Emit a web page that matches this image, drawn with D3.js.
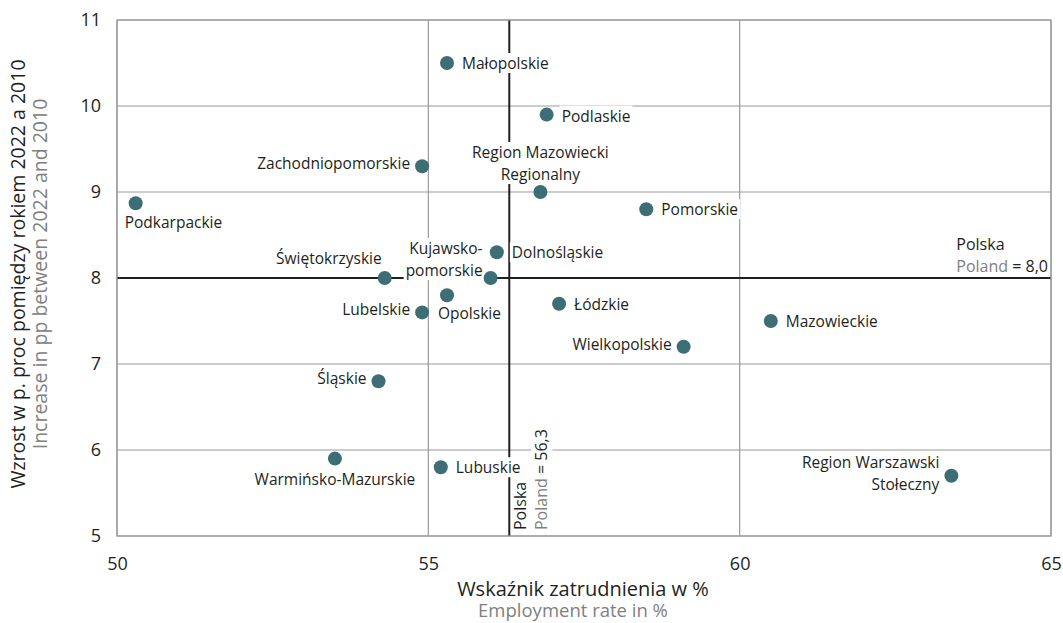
<!DOCTYPE html>
<html>
<head>
<meta charset="utf-8">
<script src="https://cdn.jsdelivr.net/npm/d3@7"></script>
<style>
  body { margin: 0; background: #fff; }
  svg text { font-family: "Open Sans", sans-serif; }
</style>
</head>
<body>
<svg id="main" width="1063" height="623"></svg>
<script>
// data
const regions = ["Małopolskie", "Podlaskie", "Zachodniopomorskie", "Region Mazowiecki|Regionalny", "Pomorskie",
    "Podkarpackie", "Kujawsko-|pomorskie", "Dolnośląskie", "Świętokrzyskie", "Opolskie", "Lubelskie", "Łódzkie",
    "Mazowieckie", "Wielkopolskie", "Śląskie", "Warmińsko-Mazurskie", "Lubuskie", "Region Warszawski|Stołeczny"]
const employment = [55.3, 56.9, 54.9, 56.8, 58.5, 50.3, 56.0, 56.1, 54.3, 55.3, 54.9, 57.1, 60.5, 59.1, 54.2, 53.5, 55.2, 63.4]
const increase = [10.5, 9.9, 9.3, 9.0, 8.8, 8.87, 8.0, 8.3, 8.0, 7.8, 7.6, 7.7, 7.5, 7.2, 6.8, 5.9, 5.8, 5.7]
// where the label sits against its point
const placement = ["r", "rb", "l", "a", "r", "bl", "al", "r", "al2", "br", "l", "r", "r", "l", "l", "b", "r", "l"]
const xTicks = [50, 55, 60, 65]
const yTicks = [5, 6, 7, 8, 9, 10, 11]
const polandX = 56.3
const polandY = 8.0

const svg = d3.select('svg#main')
const pLeft = 117, pRight = 1051, pTop = 20, pBottom = 536
const labelSize = "15.5px"

const x = d3.scaleLinear().domain([50, 65]).range([pLeft, pRight])
const y = d3.scaleLinear().domain([5, 11]).range([pBottom, pTop])

// grid
const grid = svg.append("g")
grid.selectAll("line.gx").data(xTicks).enter().append("line")
    .attr("x1", d => x(d)).attr("x2", d => x(d))
    .attr("y1", pTop).attr("y2", pBottom)
    .attr("stroke", "#9a9a9a").attr("stroke-width", 1.2)
grid.selectAll("line.gy").data(yTicks).enter().append("line")
    .attr("y1", d => y(d)).attr("y2", d => y(d))
    .attr("x1", pLeft).attr("x2", pRight)
    .attr("stroke", "#9a9a9a").attr("stroke-width", 1.2)

// axes (tick labels only)
svg.append("g")
    .attr("transform", `translate(0,${pBottom})`)
    .call(d3.axisBottom(x).tickValues(xTicks).tickSize(0).tickPadding(21).tickFormat(d3.format("d")))
svg.append("g")
    .attr("transform", `translate(${pLeft},0)`)
    .call(d3.axisLeft(y).tickValues(yTicks).tickSize(0).tickPadding(16).tickFormat(d3.format("d")))
svg.selectAll(".domain").remove()
svg.selectAll(".tick text").style("font-size", "18px").attr("fill", "#231f20")
    .style("font-family", '"Open Sans", sans-serif')

// Poland reference lines
svg.append("line")
    .attr("x1", pLeft).attr("x2", pRight)
    .attr("y1", y(polandY)).attr("y2", y(polandY))
    .attr("stroke", "#231f20").attr("stroke-width", 2)
svg.append("line")
    .attr("x1", x(polandX)).attr("x2", x(polandX))
    .attr("y1", pTop).attr("y2", pBottom)
    .attr("stroke", "#231f20").attr("stroke-width", 2)

// horizontal reference label
const hLab = svg.append("g")
const hl2 = hLab.append("text")
    .attr("x", pRight - 3).attr("y", y(polandY) - 6)
    .attr("text-anchor", "end").style("font-size", "16px")
hl2.append("tspan").attr("fill", "#808080").text("Poland")
hl2.append("tspan").attr("fill", "#231f20").text(" = 8,0")
const hw = hl2.node().getComputedTextLength()
hLab.append("text")
    .attr("x", pRight - 3 - hw).attr("y", y(polandY) - 28)
    .style("font-size", "16px").attr("fill", "#231f20").text("Polska")

// vertical reference label
const vLab = svg.append("g")
vLab.append("text")
    .attr("transform", `translate(${x(polandX) + 17},${pBottom - 6}) rotate(-90)`)
    .style("font-size", "16px").attr("fill", "#231f20").text("Polska")
const vBg = vLab.append("rect").attr("fill", "#fff")
const vt = vLab.append("text")
    .attr("transform", `translate(${x(polandX) + 38},${pBottom - 6}) rotate(-90)`)
    .style("font-size", "16px")
vt.append("tspan").attr("fill", "#808080").text("Poland")
vt.append("tspan").attr("fill", "#231f20").text(" = 56,3")
const vw = vt.node().getComputedTextLength()
vBg.attr("x", x(polandX) + 22).attr("y", pBottom - 6 - vw - 6)
    .attr("width", 21).attr("height", vw + 10)

// border
svg.append("rect")
    .attr("x", pLeft).attr("y", pTop)
    .attr("width", pRight - pLeft).attr("height", pBottom - pTop)
    .attr("fill", "none").attr("stroke", "#9a9a9a").attr("stroke-width", 1.2)

// points and labels
const dataSet = regions.map((r, i) => ({ lines: r.split("|"), x: employment[i], y: increase[i], p: placement[i] }))
const lineH = 22

function labelPos(d) {
    const cx = x(d.x), cy = y(d.y), n = d.lines.length
    switch (d.p) {
        case "r": return { x: cx + 15, y: cy + 6 - (n - 1) * lineH / 2, a: "start" }
        case "rb": return { x: cx + 15, y: cy + 7, a: "start" }
        case "l": return { x: cx - 12, y: cy + 6 - (n - 1) * lineH / 2 - 3, a: "end" }
        case "a": return { x: cx, y: cy - 34, a: "middle" }
        case "al": return { x: cx - 8, y: cy - 24, a: "end" }
        case "al2": return { x: cx - 3, y: cy - 14, a: "end" }
        case "bl": return { x: cx - 11, y: cy + 25, a: "start" }
        case "br": return { x: cx - 9, y: cy + 24, a: "start" }
        case "b": return { x: cx, y: cy + 26, a: "middle" }
    }
}

const labels = svg.append("g").selectAll("g").data(dataSet).enter().append("g")
labels.each(function (d) {
    const g = d3.select(this)
    const pos = labelPos(d)
    const bg = g.append("rect").attr("fill", "#fff")
    const t = g.append("text")
        .attr("text-anchor", pos.a)
        .style("font-size", labelSize).attr("fill", "#231f20")
    d.lines.forEach((l, k) => {
        t.append("tspan").attr("x", pos.x).attr("y", pos.y + k * lineH).text(l)
    })
    const bb = t.node().getBBox()
    bg.attr("x", bb.x - 2).attr("y", bb.y + 1).attr("width", bb.width + 4).attr("height", bb.height - 2)
})

svg.append("g").selectAll("circle").data(dataSet).enter().append("circle")
    .attr("cx", d => x(d.x)).attr("cy", d => y(d.y))
    .attr("r", 7).attr("fill", "#3d6e75")

// axis titles
svg.append("text")
    .attr("x", (pLeft + pRight) / 2 - 1).attr("y", 596)
    .attr("text-anchor", "middle").style("font-size", "20px").attr("fill", "#231f20")
    .text("Wskaźnik zatrudnienia w %")
svg.append("text")
    .attr("x", (pLeft + pRight) / 2 - 11).attr("y", 617)
    .attr("text-anchor", "middle").style("font-size", "18.5px").attr("fill", "#808080")
    .text("Employment rate in %")
svg.append("text")
    .attr("transform", `translate(25,${(pTop + pBottom) / 2 - 4}) rotate(-90)`)
    .attr("text-anchor", "middle").style("font-size", "19.5px").attr("fill", "#231f20")
    .text("Wzrost w p. proc pomiędzy rokiem 2022 a 2010")
svg.append("text")
    .attr("transform", `translate(47,${(pTop + pBottom) / 2 - 4}) rotate(-90)`)
    .attr("text-anchor", "middle").style("font-size", "19.5px").attr("fill", "#808080")
    .text("Increase in pp between 2022 and 2010")
</script>
</body>
</html>
